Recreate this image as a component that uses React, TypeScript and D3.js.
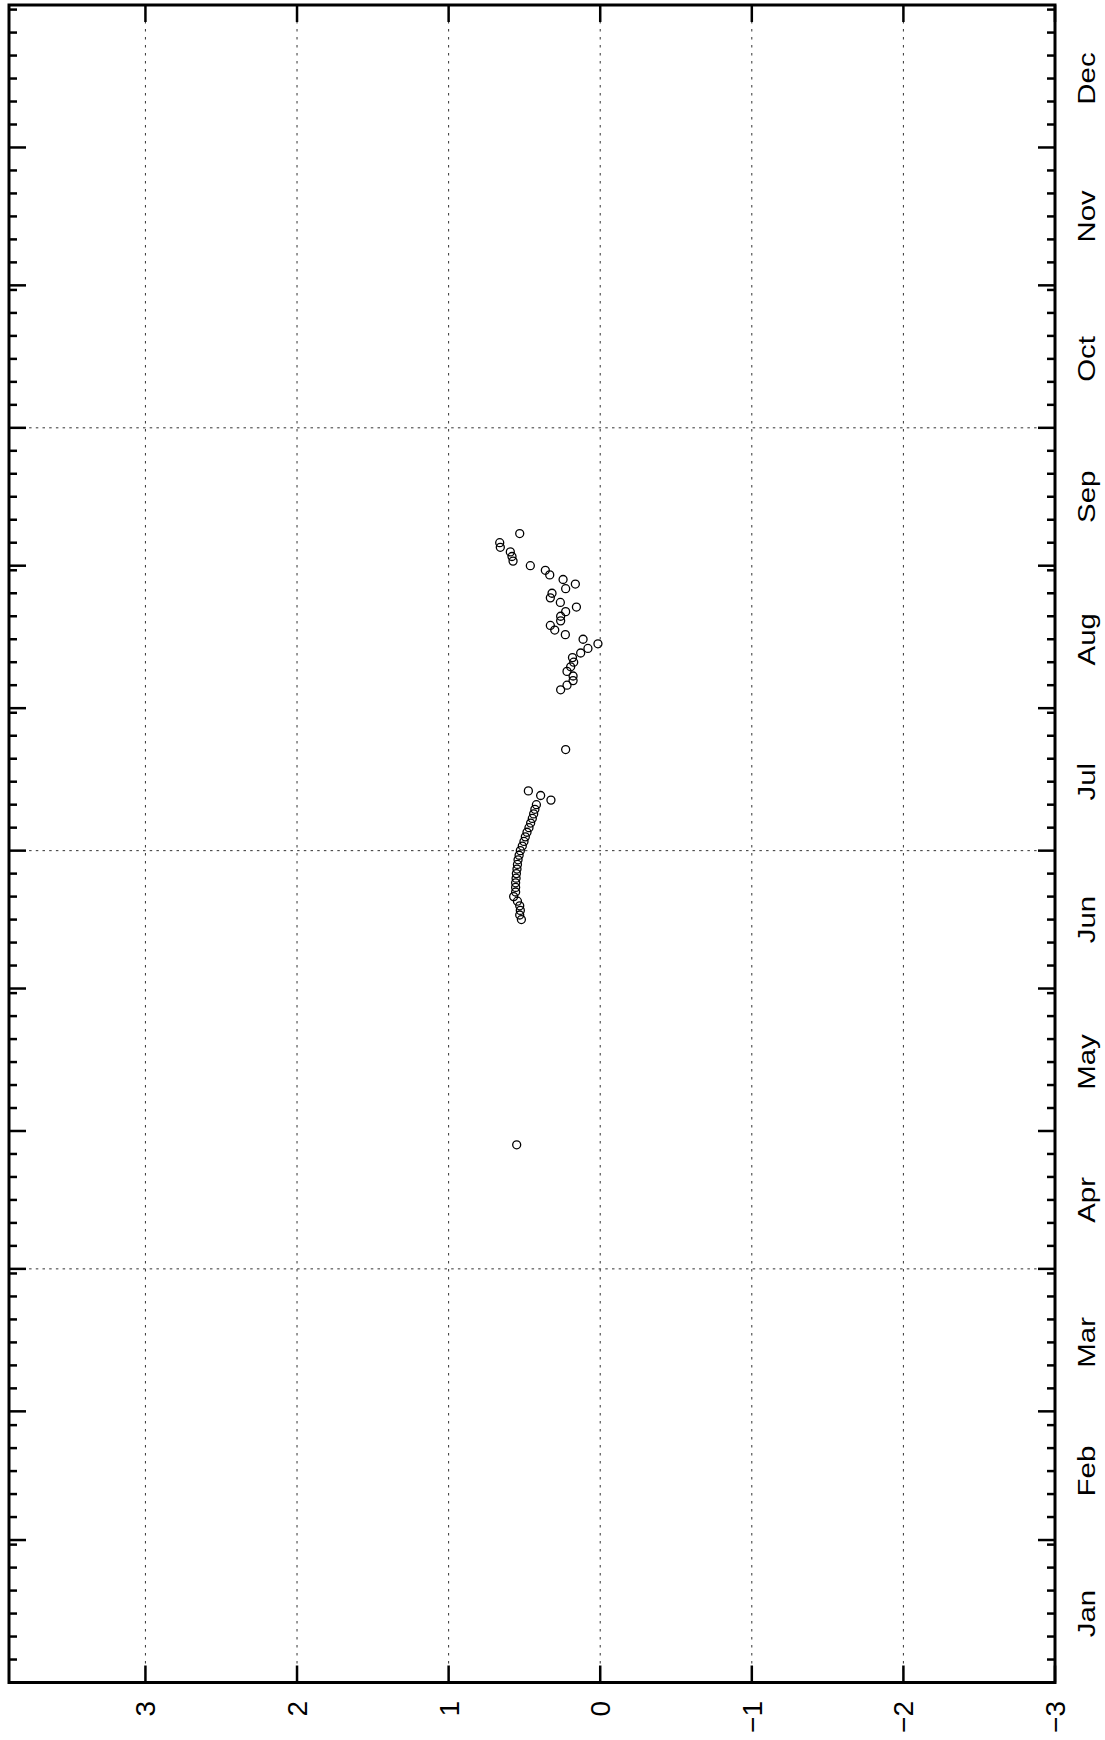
import React from "react";
import * as d3 from "d3";

// Observation dates (2001) and the measured anomaly for each one.
const obsDates: string[] = [
  "2001-04-28",
  "2001-06-16", "2001-06-17", "2001-06-18", "2001-06-19", "2001-06-20",
  "2001-06-21", "2001-06-22", "2001-06-23", "2001-06-24", "2001-06-25",
  "2001-06-26", "2001-06-27", "2001-06-28", "2001-06-29", "2001-06-30",
  "2001-07-01", "2001-07-02", "2001-07-03", "2001-07-04", "2001-07-05",
  "2001-07-06", "2001-07-07", "2001-07-08", "2001-07-09", "2001-07-10",
  "2001-07-11", "2001-07-12", "2001-07-13", "2001-07-14",
  "2001-07-23",
  "2001-08-05", "2001-08-06", "2001-08-07", "2001-08-08", "2001-08-09",
  "2001-08-10", "2001-08-11", "2001-08-12", "2001-08-13", "2001-08-14",
  "2001-08-15", "2001-08-16", "2001-08-17", "2001-08-18", "2001-08-19",
  "2001-08-20", "2001-08-21", "2001-08-22", "2001-08-23", "2001-08-24",
  "2001-08-25", "2001-08-26", "2001-08-27", "2001-08-28", "2001-08-29",
  "2001-08-30", "2001-08-31", "2001-09-01", "2001-09-02", "2001-09-03",
  "2001-09-04", "2001-09-05", "2001-09-06", "2001-09-08",
];

const obsValues: number[] = [
  0.551,
  0.52, 0.531, 0.527, 0.531, 0.546,
  0.571, 0.558, 0.558, 0.558, 0.555,
  0.553, 0.549, 0.546, 0.542, 0.535,
  0.527, 0.514, 0.503, 0.494, 0.483,
  0.47, 0.459, 0.448, 0.439, 0.431,
  0.421, 0.325, 0.393, 0.474,
  0.228,
  0.261, 0.219, 0.179, 0.179, 0.219,
  0.195, 0.175, 0.183, 0.129, 0.081,
  0.015, 0.113, 0.23, 0.3, 0.329,
  0.261, 0.261, 0.228, 0.157, 0.263,
  0.329, 0.318, 0.228, 0.164, 0.245,
  0.333, 0.362, 0.461, 0.575, 0.582,
  0.593, 0.659, 0.663, 0.531,
];

const monthLabels: string[] = [
  "Jan", "Feb", "Mar", "Apr", "May", "Jun",
  "Jul", "Aug", "Sep", "Oct", "Nov", "Dec",
];
const valueTicks: number[] = [3, 2, 1, 0, -1, -2, -3];
const valueGrid: number[] = [3, 2, 1, 0, -1, -2];
const quarterGridMonths: number[] = [3, 6, 9];
const minorTickDays: number[] = [6, 11, 16, 21, 26, 31];
const valueDomain: [number, number] = [3.9, -3];
const YEAR = 2001;

// Plot frame (the chart is laid out rotated: time runs bottom→top)
const left = 9;
const right = 1055;
const top = 5;
const bottom = 1682.5;

const utc = (y: number, m: number, d: number) => new Date(Date.UTC(y, m, d));

export default function App() {
  const xVal = d3.scaleLinear().domain(valueDomain).range([left, right]);
  const yTime = d3
    .scaleUtc()
    .domain([utc(YEAR, 0, 1), utc(YEAR + 1, 0, 1)])
    .range([bottom, top]);

  const monthStarts = d3.utcMonth.range(utc(YEAR, 0, 1), utc(YEAR + 1, 0, 1));
  const majorTicks = monthStarts.slice(1);
  const minorTicks: Date[] = [];
  monthStarts.forEach((ms) => {
    const m = ms.getUTCMonth();
    const len = d3.utcDay.count(ms, utc(YEAR, m + 1, 1));
    minorTickDays.forEach((d) => {
      if (d <= len) minorTicks.push(utc(YEAR, m, d));
    });
  });

  const points = obsDates.map((s, i) => ({
    date: d3.utcParse("%Y-%m-%d")(s) as Date,
    value: obsValues[i],
  }));

  const font = "'Liberation Sans', Arial, Helvetica, sans-serif";
  const majorLen = 17;
  const minorLen = 8;

  return (
    <svg
      width={1105}
      height={1740}
      style={{ position: "absolute", left: 0, top: 0, background: "#fff" }}
    >
      <rect x={0} y={0} width={1105} height={1740} fill="#fff" />

      {/* value gridlines (dotted, vertical) */}
      {valueGrid.map((v) => (
        <line
          key={"vg" + v}
          x1={xVal(v)}
          x2={xVal(v)}
          y1={top}
          y2={bottom}
          stroke="#333"
          strokeWidth={1}
          strokeDasharray="2.5,5.5"
        />
      ))}

      {/* quarter gridlines (dotted, horizontal) */}
      {quarterGridMonths.map((m) => (
        <line
          key={"qg" + m}
          x1={left}
          x2={right}
          y1={yTime(utc(YEAR, m, 1))}
          y2={yTime(utc(YEAR, m, 1))}
          stroke="#333"
          strokeWidth={1}
          strokeDasharray="2.5,4.2"
        />
      ))}

      {/* month ticks on both sides */}
      {majorTicks.map((d, i) => (
        <g key={"mt" + i}>
          <line x1={left} x2={left + majorLen} y1={yTime(d)} y2={yTime(d)} stroke="#000" strokeWidth={2.5} />
          <line x1={right} x2={right - majorLen} y1={yTime(d)} y2={yTime(d)} stroke="#000" strokeWidth={2.5} />
        </g>
      ))}
      {minorTicks.map((d, i) => (
        <g key={"nt" + i}>
          <line x1={left} x2={left + minorLen} y1={yTime(d)} y2={yTime(d)} stroke="#000" strokeWidth={2.5} />
          <line x1={right} x2={right - minorLen} y1={yTime(d)} y2={yTime(d)} stroke="#000" strokeWidth={2.5} />
        </g>
      ))}

      {/* value ticks top and bottom */}
      {valueTicks.map((v) => (
        <g key={"vt" + v}>
          <line x1={xVal(v)} x2={xVal(v)} y1={bottom} y2={bottom - majorLen} stroke="#000" strokeWidth={2.5} />
          <line x1={xVal(v)} x2={xVal(v)} y1={top} y2={top + majorLen} stroke="#000" strokeWidth={2.5} />
        </g>
      ))}

      {/* frame */}
      <rect
        x={left}
        y={top}
        width={right - left}
        height={bottom - top}
        fill="none"
        stroke="#000"
        strokeWidth={3}
      />

      {/* data points */}
      {points.map((p, i) => (
        <circle
          key={"p" + i}
          cx={xVal(p.value)}
          cy={yTime(p.date)}
          r={4}
          fill="none"
          stroke="#000"
          strokeWidth={1.3}
        />
      ))}

      {/* month labels (rotated, mid-month) */}
      {monthLabels.map((lab, m) => (
        <text
          key={"ml" + lab}
          transform={`translate(1095,${yTime(utc(YEAR, m, 16))}) rotate(-90) scale(1.28,1)`}
          textAnchor="middle"
          fontFamily={font}
          fontSize={23}
          fill="#000"
        >
          {lab}
        </text>
      ))}

      {/* value labels (rotated, below the frame) */}
      {valueTicks.map((v) => (
        <text
          key={"vl" + v}
          transform={`translate(${xVal(v) + 10},1701) rotate(-90)`}
          textAnchor="end"
          fontFamily={font}
          fontSize={28}
          fill="#000"
        >
          {v < 0 ? "\u2212" + Math.abs(v) : String(v)}
        </text>
      ))}
    </svg>
  );
}
